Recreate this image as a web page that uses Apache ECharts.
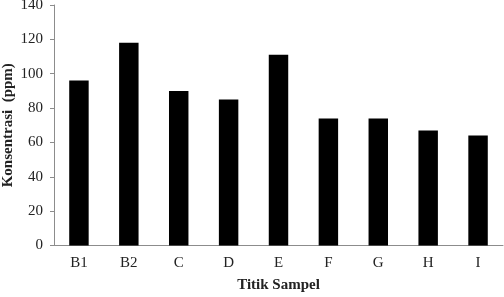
<!DOCTYPE html>
<html><head><meta charset="utf-8">
<script src="https://cdn.jsdelivr.net/npm/echarts@6/dist/echarts.min.js"></script>
<style>html,body{margin:0;padding:0;background:#fff}#c{width:504px;height:297px}</style>
</head><body><div id="c"></div>
<script>
const categories = ['B1','B2','C','D','E','F','G','H','I'];
const values = [96,118,90,85,111,74,74,67,64];
const yTicks = [0,20,40,60,80,100,120,140];
const font = '"Liberation Serif","Times New Roman",serif';
const chart = echarts.init(document.getElementById('c'));
chart.setOption({
  animation:false,
  grid:{left:54,right:1,top:5,bottom:51.5,containLabel:false,outerBoundsMode:'none'},
  xAxis:{type:'category',data:categories,
    axisLine:{lineStyle:{color:'#8c8c8c',width:1}},
    axisTick:{show:false},
    axisLabel:{color:'#222',fontFamily:font,fontSize:15,margin:10},
    name:'Titik Sampel',nameLocation:'middle',nameGap:32,nameMoveOverlap:false,
    nameTextStyle:{color:'#222',fontFamily:font,fontSize:15,fontWeight:'bold'}},
  yAxis:{type:'value',min:0,max:140,interval:20,
    axisLine:{show:true,lineStyle:{color:'#8c8c8c',width:1}},
    axisTick:{show:true,length:4,lineStyle:{color:'#8c8c8c'}},
    splitLine:{show:false},
    axisLabel:{color:'#222',fontFamily:font,fontSize:15,margin:11},
    name:'Konsentrasi  (ppm)',nameLocation:'middle',nameGap:38,nameRotate:90,nameMoveOverlap:false,
    nameTextStyle:{color:'#222',fontFamily:font,fontSize:15,fontWeight:'bold'}},
  series:[{type:'bar',data:values,barWidth:'39%',itemStyle:{color:'#000'}}]
});
</script></body></html>
